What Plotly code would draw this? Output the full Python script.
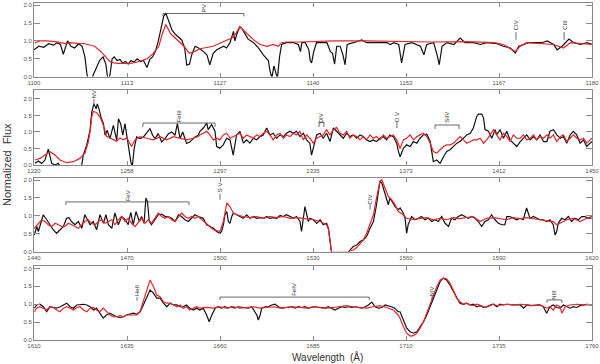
import plotly.graph_objects as go

# ---- panel 1 (1100-1180 A) ----
P1_WL_OBS = [1100.0, 1100.7, 1101.4, 1102.1, 1102.8, 1103.3, 1103.8, 1104.2, 1104.8, 1105.3, 1105.8, 1106.4,
             1106.9, 1107.3, 1107.6, 1108.0, 1108.5, 1108.9, 1109.4, 1109.9, 1110.3, 1110.6, 1110.9, 1111.2,
             1111.5, 1111.9, 1112.3, 1112.7, 1113.1, 1113.5, 1113.9, 1114.3, 1114.8, 1115.3, 1115.7, 1116.2,
             1116.6, 1117.0, 1117.4, 1117.8, 1118.3, 1118.6, 1118.9, 1119.2, 1119.5, 1119.8, 1120.3, 1120.8,
             1121.2, 1121.6, 1121.9, 1122.3, 1122.6, 1123.1, 1123.6, 1124.3, 1124.8, 1125.2, 1125.7, 1126.2,
             1126.7, 1127.2, 1127.6, 1128.1, 1128.6, 1128.8, 1129.1, 1129.3, 1129.5, 1129.8, 1130.3, 1130.7,
             1131.5, 1132.2, 1132.9, 1133.6, 1133.8, 1134.1, 1134.4, 1134.7, 1134.9, 1135.2, 1135.5, 1136.2,
             1137.2, 1137.9, 1138.2, 1138.4, 1138.9, 1139.4, 1139.6, 1139.8, 1140.1, 1140.5, 1142.0, 1142.5,
             1142.8, 1143.1, 1143.4, 1143.9, 1144.3, 1144.6, 1144.9, 1145.8, 1147.0, 1147.7, 1148.7, 1149.6,
             1150.6, 1151.1, 1151.6, 1152.3, 1152.7, 1153.2, 1154.2, 1155.4, 1155.9, 1156.3, 1157.3, 1157.8,
             1158.1, 1158.5, 1159.2, 1160.2, 1161.1, 1161.8, 1163.0, 1164.0, 1164.9, 1166.4, 1167.3, 1168.3,
             1169.0, 1169.5, 1170.2, 1170.9, 1171.9, 1172.8, 1173.6, 1174.5, 1175.0, 1175.7, 1176.7, 1177.4,
             1178.3, 1179.3, 1180.0]
P1_FLUX_OBS = [0.75, 0.85, 0.82, 0.92, 0.88, 0.95, 0.90, 0.62, 1.00, 0.85, 0.80, 0.92,
               0.85, 0.55, 0.05, -0.25, 0.05, 0.25, 0.45, 0.55, 0.35, -0.10, 0.05, 0.50,
               0.55, 0.45, 0.48, 0.38, 0.42, 0.35, 0.45, 0.40, 0.50, 0.42, 0.45, 0.25,
               0.48, 0.55, 0.70, 0.98, 1.50, 1.70, 1.78, 1.60, 1.45, 1.30, 1.18, 1.08,
               1.02, 0.80, 0.32, 0.35, 0.60, 0.85, 0.80, 0.70, 0.60, 0.33, 0.65, 0.75,
               0.80, 0.85, 0.80, 0.95, 1.27, 1.00, 1.20, 1.30, 1.40, 1.35, 1.20, 1.05,
               0.95, 0.80, 0.60, 0.45, 0.19, -0.05, 0.30, 0.10, -0.05, 0.55, 0.90, 0.95,
               0.95, 0.90, 0.70, 0.95, 0.95, 0.75, 0.45, 0.38, 0.70, 0.95, 0.95, 0.70,
               0.65, 0.35, 0.85, 0.85, 0.60, 0.33, 0.90, 0.95, 1.03, 0.95, 0.95, 0.93,
               0.95, 0.90, 0.95, 0.90, 0.38, 0.90, 0.95, 0.85, 0.61, 0.90, 0.95, 0.60,
               0.33, 0.85, 0.95, 0.90, 1.08, 0.95, 0.95, 0.90, 0.95, 0.92, 0.85, 0.80,
               0.66, 0.85, 0.90, 0.95, 0.95, 0.95, 1.00, 0.90, 0.75, 0.85, 1.05, 0.95,
               0.90, 0.95, 0.90]
P1_WL_MOD = [1100.1, 1100.9, 1101.8, 1103.1, 1104.7, 1105.2, 1106.2, 1107.3, 1108.7, 1109.6, 1110.5, 1111.0,
             1111.9, 1112.9, 1113.8, 1114.7, 1116.2, 1117.1, 1117.9, 1118.4, 1118.9, 1119.6, 1120.6, 1121.5,
             1122.3, 1123.0, 1123.8, 1125.7, 1126.7, 1128.6, 1129.5, 1130.5, 1131.5, 1132.4, 1133.4, 1134.3,
             1135.0, 1135.5, 1136.2, 1138.2, 1142.9, 1147.7, 1152.3, 1157.0, 1162.0, 1166.0, 1167.3, 1169.0,
             1169.7, 1170.6, 1174.5, 1175.9, 1176.9, 1180.0]
P1_FLUX_MOD = [0.95, 1.00, 1.00, 0.98, 0.92, 0.95, 0.93, 0.92, 0.85, 0.70, 0.50, 0.40,
               0.37, 0.36, 0.37, 0.40, 0.50, 0.65, 0.85, 1.20, 1.46, 1.20, 1.00, 0.85,
               0.65, 0.70, 0.78, 0.85, 0.94, 1.10, 1.40, 1.20, 1.03, 0.90, 0.85, 0.90,
               0.85, 0.95, 0.97, 0.97, 1.00, 1.00, 0.98, 0.97, 0.98, 0.95, 0.90, 0.70,
               0.85, 0.95, 0.90, 0.80, 0.95, 0.90]

# ---- panel 2 (1220-1450 A) ----
P2_WL_OBS = [1220.4, 1221.8, 1223.2, 1224.5, 1225.9, 1226.6, 1227.3, 1228.7, 1230.0, 1231.4, 1235.0, 1239.0,
             1239.7, 1240.3, 1241.7, 1243.1, 1243.8, 1244.7, 1245.6, 1246.1, 1246.8, 1247.6, 1248.6, 1249.3,
             1250.2, 1251.3, 1252.7, 1254.1, 1254.8, 1255.7, 1256.6, 1257.5, 1258.5, 1259.3, 1259.9, 1260.5,
             1261.3, 1262.3, 1263.7, 1265.1, 1266.5, 1267.8, 1268.9, 1269.9, 1271.2, 1272.6, 1274.0, 1275.4,
             1276.8, 1278.1, 1279.1, 1280.2, 1281.3, 1282.9, 1284.3, 1286.4, 1287.7,
             1288.4, 1289.8, 1291.2, 1291.8, 1293.2, 1294.6, 1295.3, 1296.6, 1298.0, 1299.4, 1300.8, 1302.1,
             1303.5, 1304.9, 1306.3, 1307.6, 1309.0, 1310.4, 1311.8, 1313.1, 1314.5, 1315.9, 1317.3, 1318.6,
             1320.0, 1321.4, 1322.8, 1324.1, 1325.5, 1326.9, 1328.2, 1329.6, 1331.0, 1332.4, 1333.7, 1334.4,
             1335.1, 1336.5, 1337.9, 1339.2, 1340.6, 1342.0, 1343.4, 1344.7, 1346.1, 1347.5, 1348.9, 1350.2,
             1351.6, 1353.0, 1354.4, 1355.7, 1357.1, 1358.5, 1359.8, 1361.2, 1362.6, 1364.0, 1365.3, 1366.7,
             1368.1, 1369.5, 1370.2,
             1370.9, 1372.3, 1373.6, 1375.0, 1376.4, 1377.8, 1379.1, 1380.5, 1381.9, 1383.3, 1384.6, 1386.0,
             1387.4, 1388.8, 1390.1, 1391.5, 1392.9, 1394.3, 1395.6, 1397.0, 1398.4, 1399.8, 1401.1, 1402.5,
             1403.2, 1404.6, 1405.3, 1405.9, 1407.3, 1408.7, 1410.1, 1410.7, 1412.1, 1413.5, 1414.9, 1416.2,
             1417.6, 1419.0, 1420.4, 1421.7, 1423.1, 1424.5, 1425.9, 1427.2, 1428.6, 1430.0, 1431.4, 1432.7,
             1434.1, 1435.5, 1436.9, 1438.2, 1439.6, 1441.0, 1442.3, 1443.7, 1445.1, 1446.5, 1447.8, 1449.2,
             1450.0]
P2_FLUX_OBS = [0.05, 0.12, 0.05, 0.15, 0.48, 0.30, 0.05, 0.00, 0.05, -0.10, -0.20, -0.10,
               0.00, 0.30, 0.60, 1.05, 1.60, 1.85, 1.70, 1.85, 1.70, 1.45, 1.25, 0.90,
               1.05, 0.80, 1.20, 0.75, 1.40, 1.25, 0.90, 1.25, 0.75, 0.45, 0.10, -0.05,
               0.50, 0.85, 0.80, 0.85, 1.00, 1.10, 0.90, 0.80, 0.95, 0.70, 0.80, 0.95,
               1.00, 0.90, 1.25, 0.80, 1.00, 0.65, 0.70, 0.85, 0.90,
               1.02, 1.12, 1.27, 1.07, 1.22, 1.02, 0.56, 0.51, 0.61, 0.81, 0.76, 0.30,
               0.91, 1.02, 0.66, 0.76, 0.66, 0.81, 0.76, 0.86, 0.91, 1.12, 0.91, 0.96,
               0.81, 0.91, 0.86, 0.96, 1.02, 0.96, 1.02, 0.86, 0.96, 0.76, 0.66, 0.30,
               0.51, 0.91, 0.96, 0.81, 0.96, 0.71, 1.12, 1.02, 0.91, 0.81, 0.96, 0.86,
               0.91, 0.81, 0.91, 0.86, 0.76, 0.71, 0.76, 0.71, 0.81, 0.86, 0.76, 0.91,
               0.86, 0.66, 0.41,
               0.25, 0.51, 0.61, 0.56, 0.71, 0.66, 0.81, 0.91, 0.93, 0.71, 0.10, 0.15,
               0.05, 0.25, 0.41, 0.46, 0.56, 0.66, 0.71, 0.81, 0.91, 0.96, 1.12, 1.47,
               1.54, 1.54, 1.42, 1.07, 1.02, 0.81, 1.07, 0.91, 1.07, 0.81, 1.02, 0.76,
               0.66, 0.56, 0.71, 0.81, 0.91, 0.76, 0.86, 0.76, 0.91, 0.71, 0.71, 1.02,
               1.07, 0.91, 0.81, 0.86, 0.66, 0.91, 1.02, 0.91, 0.66, 0.76, 0.56, 0.66,
               0.71]
P2_WL_MOD = [1220.4, 1222.5, 1224.5, 1226.6, 1228.7, 1230.7, 1233.5, 1236.2, 1238.9, 1241.0, 1242.4, 1243.1,
             1243.8, 1244.4, 1245.8, 1247.2, 1248.6, 1249.9, 1251.3, 1252.7, 1254.1, 1255.4, 1256.8, 1258.2,
             1260.2, 1261.6, 1263.7, 1266.5, 1269.2, 1272.0, 1274.7, 1277.5, 1280.2, 1282.9, 1285.7, 1287.7,
             1288.4, 1289.8, 1291.2, 1292.5, 1293.9, 1295.3, 1296.6, 1298.0, 1299.4, 1300.8, 1302.1, 1303.5,
             1304.9, 1306.3, 1307.6, 1309.0, 1310.4, 1311.8, 1313.1, 1314.5, 1315.9, 1317.3, 1318.6, 1320.0,
             1321.4, 1322.8, 1324.1, 1325.5, 1326.9, 1328.2, 1329.6, 1331.0, 1332.4, 1333.7, 1335.1, 1336.5,
             1337.9, 1339.2, 1340.6, 1342.0, 1343.4, 1344.7, 1346.1, 1347.5, 1348.9, 1350.2, 1351.6, 1353.0,
             1354.4, 1355.7, 1357.1, 1358.5, 1359.8, 1361.2, 1362.6, 1364.0, 1365.3, 1366.7, 1368.1, 1369.5,
             1370.9, 1372.3, 1373.6, 1375.0, 1376.4, 1377.8, 1379.1, 1380.5, 1381.9, 1383.3, 1384.6, 1386.0,
             1387.4, 1388.8, 1390.1, 1391.5, 1392.9, 1394.3, 1395.6, 1397.0, 1398.4, 1399.8, 1401.1, 1402.5,
             1403.9, 1405.3, 1406.6, 1408.0, 1409.4, 1410.7, 1412.1, 1413.5, 1414.9, 1416.2, 1417.6, 1419.0,
             1420.4, 1421.7, 1423.1, 1424.5, 1425.9, 1427.2, 1428.6, 1430.0, 1431.4, 1432.7, 1434.1, 1435.5,
             1436.9, 1438.2, 1439.6, 1441.0, 1442.3, 1443.7, 1445.1, 1446.5, 1447.8, 1450.0]
P2_FLUX_MOD = [0.15, 0.20, 0.30, 0.40, 0.30, 0.15, 0.07, 0.10, 0.20, 0.36, 0.70, 1.00,
               1.45, 1.62, 1.59, 1.45, 1.20, 0.87, 0.82, 0.76, 0.72, 0.82, 0.76, 0.82,
               0.56, 0.76, 0.86, 0.81, 0.76, 0.86, 0.76, 0.86, 0.81, 0.76, 0.81, 0.86,
               0.91, 0.96, 1.02, 0.91, 0.76, 0.81, 0.76, 0.91, 0.96, 0.81, 0.86, 0.91,
               0.96, 0.81, 0.91, 0.86, 0.81, 0.91, 0.86, 0.96, 1.02, 0.91, 0.76, 0.91,
               0.96, 0.81, 0.91, 0.86, 0.96, 0.91, 1.02, 0.76, 0.91, 0.81, 0.66, 0.81,
               0.86, 0.91, 1.07, 0.91, 1.07, 1.14, 0.96, 0.91, 1.02, 0.81, 0.91, 0.86,
               0.76, 0.86, 0.76, 0.91, 0.81, 0.86, 0.76, 0.91, 0.81, 0.86, 0.91, 0.76,
               0.50, 0.76, 0.81, 0.91, 0.76, 0.86, 0.91, 0.96, 0.86, 0.66, 0.41, 0.36,
               0.46, 0.56, 0.61, 0.61, 0.66, 0.76, 0.86, 0.76, 0.66, 0.71, 0.76, 0.76,
               0.81, 0.66, 0.76, 0.91, 1.07, 0.91, 0.76, 0.96, 0.86, 0.71, 0.91, 0.81,
               0.81, 0.91, 0.76, 0.81, 0.91, 0.76, 0.86, 0.81, 0.91, 0.81, 0.91, 0.71,
               0.86, 0.91, 0.71, 0.81, 0.91, 0.81, 0.76, 0.81, 0.66, 0.81]

# ---- panel 3 (1440-1620 A) ----
P3_WL_OBS = [1440.1, 1440.9, 1441.4, 1442.1, 1443.0, 1444.1, 1445.2, 1446.2, 1447.3, 1448.4, 1449.5, 1450.5,
             1451.3, 1452.1, 1453.2, 1454.3, 1455.4, 1456.4, 1457.2, 1458.1, 1459.1, 1460.2, 1461.3, 1462.4,
             1463.2, 1464.0, 1465.1, 1466.1, 1467.2, 1468.3, 1469.4, 1470.4, 1471.2, 1472.0, 1472.9, 1474.0,
             1474.7, 1475.5, 1476.1, 1476.6, 1477.2, 1477.9, 1479.0, 1480.1, 1481.2, 1482.3, 1483.3, 1484.4,
             1485.5, 1486.6, 1487.6, 1488.7, 1489.8, 1490.9, 1491.9, 1493.0,
             1494.6, 1495.7, 1496.8, 1497.9, 1498.9, 1500.0, 1500.5, 1501.1, 1501.6, 1502.2, 1502.7, 1503.2,
             1503.8, 1504.3, 1505.4, 1506.5, 1507.5, 1508.6, 1509.7, 1510.8, 1511.8, 1512.9, 1514.0, 1515.1,
             1516.1, 1517.2, 1518.3, 1519.4, 1520.4, 1521.5, 1522.6, 1523.7, 1524.7, 1525.8, 1526.3, 1526.9,
             1527.4, 1528.0, 1528.5, 1529.0, 1530.1, 1531.2, 1532.3, 1533.3, 1534.4, 1535.0, 1535.5, 1536.0,
             1537.6, 1540.9, 1541.9, 1543.0, 1544.1, 1545.2, 1546.2, 1547.3, 1548.4, 1549.5, 1550.5, 1551.6,
             1552.2, 1553.2, 1554.3, 1554.8, 1555.4, 1556.5, 1557.5,
             1558.1, 1559.1, 1559.7, 1560.2, 1560.7, 1561.8, 1562.9, 1564.0, 1565.0, 1566.1, 1567.2, 1568.3,
             1569.4, 1570.4, 1571.5, 1572.6, 1573.7, 1574.7, 1575.8, 1576.9, 1578.0, 1579.0, 1580.1, 1581.2,
             1582.3, 1583.3, 1584.4, 1585.5, 1586.6, 1587.6, 1588.7, 1589.8, 1590.9, 1591.9, 1592.5, 1593.5,
             1594.6, 1595.7, 1596.8, 1597.8, 1598.9, 1599.5, 1600.0, 1601.1, 1602.1, 1603.2, 1604.3, 1605.4,
             1606.4, 1607.5, 1608.1, 1608.6, 1609.1, 1610.2, 1611.3, 1612.4, 1613.4, 1614.5, 1615.6, 1616.7,
             1617.7, 1618.8, 1619.9]
P3_FLUX_OBS = [0.46, 0.70, 0.56, 0.75, 1.03, 0.89, 0.75, 0.61, 0.51, 0.61, 0.70, 0.93,
               0.95, 0.84, 0.75, 0.84, 0.65, 1.03, 0.89, 0.75, 0.84, 0.61, 1.03, 0.79,
               1.03, 0.75, 0.65, 1.08, 0.75, 0.98, 0.89, 0.75, 1.10, 0.75, 1.12, 0.84,
               0.98, 0.79, 1.50, 1.40, 0.84, 0.75, 0.89, 1.03, 1.05, 0.98, 0.98, 0.93,
               0.84, 1.03, 0.98, 0.89, 0.84, 0.93, 1.03, 0.98,
               0.93, 0.75, 0.70, 0.65, 0.56, 0.51, 0.56, 0.75, 1.03, 1.12, 0.84, 0.79,
               0.98, 1.08, 1.03, 0.98, 0.93, 1.03, 0.93, 0.98, 0.93, 0.95, 0.93, 0.98,
               0.93, 0.95, 0.93, 1.01, 0.98, 1.03, 0.98, 0.93, 0.98, 0.84, 0.56, 0.89,
               1.26, 1.03, 0.84, 0.93, 0.89, 0.79, 0.89, 0.75, 0.79, 0.65, 0.28, -0.05,
               -0.10, -0.08, 0.04, 0.14, 0.18, 0.28, 0.32, 0.42, 0.65, 0.84, 1.31, 1.97,
               1.92, 1.64, 1.31, 1.50, 1.40, 1.26, 1.17,
               1.22, 1.08, 0.93, 0.51, 0.75, 0.98, 0.89, 0.93, 0.98, 0.89, 0.93, 0.84,
               0.89, 0.84, 0.98, 0.79, 0.70, 0.93, 0.89, 0.98, 1.03, 0.98, 0.93, 0.98,
               0.93, 0.84, 0.70, 0.84, 0.89, 1.03, 0.89, 0.79, 0.75, 0.75, 0.98, 0.98,
               0.93, 0.89, 0.93, 0.89, 1.22, 1.08, 0.93, 0.98, 0.93, 0.89, 0.89, 0.84,
               0.89, 0.75, 0.46, 0.56, 0.79, 0.93, 0.89, 0.98, 0.84, 0.93, 0.89, 0.98,
               0.98, 0.93, 0.98]
P3_WL_MOD = [1440.1, 1441.4, 1442.5, 1443.5, 1444.6, 1445.7, 1446.8, 1447.9, 1448.9, 1450.0, 1451.1, 1452.2,
             1453.2, 1454.3, 1455.4, 1456.4, 1457.5, 1458.6, 1459.7, 1460.8, 1461.8, 1462.9, 1464.0, 1465.1,
             1466.1, 1467.2, 1468.3, 1469.4, 1470.4, 1471.5, 1472.6, 1473.7, 1474.7, 1475.8, 1476.9, 1477.9,
             1479.0, 1480.1, 1481.2, 1482.3, 1483.3, 1484.4, 1485.5, 1486.6, 1487.6, 1488.7, 1489.8, 1490.9,
             1491.9, 1493.0, 1495.7, 1497.9, 1500.0, 1501.1, 1502.2, 1503.2, 1504.3, 1505.4, 1507.5, 1509.7,
             1511.8, 1514.0, 1516.1, 1518.3, 1520.4, 1522.6, 1524.7, 1526.9, 1528.0, 1530.1, 1532.3, 1533.3,
             1534.4, 1535.0, 1535.5, 1536.0, 1540.9, 1543.0, 1544.1, 1545.2, 1546.2, 1547.3, 1548.4, 1549.5,
             1550.5, 1551.6, 1552.2, 1553.2, 1554.3, 1555.4, 1556.5, 1557.5, 1559.1, 1560.2, 1562.4, 1564.5,
             1566.7, 1568.8, 1571.0, 1573.1, 1575.3, 1577.4, 1579.6, 1581.7, 1583.9, 1586.0, 1588.2, 1590.3,
             1592.5, 1594.6, 1596.8, 1598.9, 1601.1, 1603.2, 1605.4, 1607.5, 1608.6, 1609.7, 1611.8, 1614.0,
             1616.1, 1618.3, 1619.9]
P3_FLUX_MOD = [0.65, 0.79, 0.89, 0.84, 0.75, 0.70, 0.79, 0.75, 0.70, 0.70, 0.79, 0.75,
               0.70, 0.65, 0.75, 0.84, 0.89, 0.79, 0.75, 0.84, 0.89, 0.79, 0.84, 0.89,
               0.75, 0.89, 0.98, 0.84, 0.93, 0.79, 0.70, 0.84, 0.93, 0.79, 0.89, 0.79,
               0.93, 1.08, 0.98, 0.93, 0.98, 0.89, 0.84, 0.98, 1.08, 0.98, 0.93, 0.98,
               0.93, 0.98, 0.79, 0.61, 0.56, 0.84, 1.36, 1.26, 1.08, 1.03, 0.98, 0.95,
               0.98, 0.93, 0.98, 0.95, 0.98, 0.93, 0.95, 0.93, 0.93, 0.89, 0.84, 0.79,
               0.75, 0.61, 0.28, -0.02, -0.02, 0.04, 0.11, 0.23, 0.32, 0.51, 0.75, 1.03,
               1.50, 1.97, 2.01, 1.78, 1.54, 1.45, 1.31, 1.12, 1.03, 0.93, 0.89, 0.93,
               0.95, 0.89, 0.93, 0.89, 0.95, 0.92, 0.95, 0.98, 0.84, 0.93, 0.95, 0.93,
               0.89, 0.95, 0.92, 0.95, 0.93, 0.89, 0.86, 0.84, 0.75, 0.79, 0.89, 0.93,
               0.84, 0.93, 0.93]

# ---- panel 4 (1610-1760 A) ----
P4_WL_OBS = [1610.1, 1610.7, 1611.6, 1612.5, 1613.4, 1614.3, 1615.2, 1616.1, 1617.0, 1617.9, 1618.8, 1619.7,
             1620.6, 1621.5, 1622.4, 1623.3, 1624.2, 1625.1, 1626.0, 1626.8, 1627.7, 1628.6, 1629.5, 1630.4,
             1631.3, 1632.2, 1633.1, 1634.0, 1634.9, 1635.8, 1636.7, 1637.6, 1638.5, 1639.4, 1640.3, 1641.2,
             1642.1, 1643.0, 1643.9, 1644.8, 1645.7, 1646.6, 1647.5, 1648.4, 1649.3, 1650.1, 1651.0, 1651.9,
             1652.8, 1653.7, 1654.6,
             1655.5, 1656.4, 1657.1, 1657.8, 1658.7, 1659.5, 1660.4, 1661.3, 1662.2, 1663.1, 1664.0, 1664.9,
             1665.8, 1666.7, 1667.6, 1668.5, 1669.4, 1669.9, 1670.3, 1670.8, 1671.2, 1672.1, 1673.0, 1673.9,
             1674.8, 1675.7, 1676.6, 1677.5, 1678.4, 1679.3, 1680.2, 1681.1, 1682.0, 1682.8, 1683.7, 1684.6,
             1685.5, 1686.4, 1687.3, 1688.2, 1689.1, 1690.0, 1690.9, 1691.8, 1692.7, 1693.6, 1694.5, 1695.4,
             1696.3, 1697.2, 1698.1, 1699.0, 1699.9, 1700.8, 1701.7, 1702.6, 1703.5, 1704.4, 1705.3, 1706.1,
             1707.0, 1707.9,
             1708.4, 1709.3, 1710.2, 1711.1, 1712.0, 1712.9, 1713.8, 1714.7, 1715.6, 1716.5, 1717.4, 1718.3,
             1719.2, 1720.0, 1720.9, 1721.8, 1722.7, 1723.6, 1724.5, 1725.4, 1726.3, 1727.2, 1728.1, 1729.0,
             1729.9, 1730.8, 1731.7, 1732.6, 1733.5, 1734.4, 1735.3, 1736.2, 1737.1, 1738.9, 1740.7, 1741.6,
             1742.5, 1743.3, 1745.1, 1746.0, 1746.9, 1747.8, 1748.7, 1749.6, 1750.5, 1751.4, 1752.3, 1753.2,
             1754.1, 1755.0, 1755.9, 1756.8, 1757.7, 1758.6, 1760.0]
P4_FLUX_OBS = [0.89, 0.98, 1.00, 0.93, 0.79, 0.93, 0.91, 0.89, 0.93, 0.98, 1.03, 0.93,
               0.89, 0.98, 1.00, 1.00, 0.98, 0.93, 0.84, 0.89, 0.75, 0.61, 0.70, 0.75,
               0.70, 0.65, 0.63, 0.65, 0.70, 0.72, 0.75, 0.72, 0.79, 0.98, 1.21, 1.40,
               1.31, 1.17, 1.17, 1.03, 0.93, 1.03, 0.98, 0.98, 0.93, 0.93, 0.98, 0.89,
               0.84, 0.89, 0.84,
               0.89, 0.70, 0.51, 0.70, 0.89, 0.93, 0.89, 0.93, 0.89, 0.93, 0.89, 0.93,
               0.91, 0.89, 0.89, 0.93, 0.79, 0.70, 0.56, 0.70, 0.89, 0.93, 0.93, 0.98,
               1.00, 0.93, 0.89, 0.91, 0.93, 0.93, 0.89, 0.93, 0.91, 0.93, 0.89, 0.91,
               0.93, 0.91, 0.89, 0.89, 0.93, 0.89, 0.84, 0.89, 0.93, 0.91, 0.93, 0.91,
               0.93, 0.91, 0.89, 0.93, 0.98, 1.06, 0.93, 0.89, 0.91, 0.98, 0.96, 0.93,
               0.89, 0.79,
               0.79, 0.56, 0.33, 0.23, 0.19, 0.23, 0.37, 0.51, 0.70, 0.93, 1.17, 1.40,
               1.64, 1.73, 1.68, 1.54, 1.36, 1.17, 1.03, 1.00, 1.03, 0.98, 1.00, 0.93,
               0.96, 0.91, 0.93, 0.98, 1.00, 0.93, 1.00, 0.98, 1.00, 0.98, 0.98, 0.89,
               0.98, 0.96, 0.96, 0.98, 0.93, 0.75, 0.93, 0.98, 0.91, 0.89, 0.98, 0.93,
               0.89, 0.93, 0.91, 0.96, 0.98, 1.00, 0.98]
P4_WL_MOD = [1610.1, 1610.7, 1611.6, 1612.5, 1613.4, 1614.3, 1615.2, 1616.1, 1617.0, 1617.9, 1618.8, 1619.7,
             1620.6, 1621.5, 1622.4, 1623.3, 1624.2, 1625.1, 1626.0, 1626.8, 1627.7, 1628.6, 1629.5, 1630.4,
             1631.3, 1632.2, 1633.1, 1634.0, 1634.9, 1635.8, 1636.7, 1637.6, 1638.5, 1639.4, 1640.3, 1641.2,
             1642.1, 1643.0, 1643.9, 1644.8, 1645.7, 1646.6, 1647.5, 1648.4, 1649.3, 1650.1, 1651.0, 1651.9,
             1652.8, 1653.7, 1654.6, 1656.4, 1658.2, 1660.0, 1661.8, 1663.6, 1665.4, 1667.2, 1669.0, 1670.8,
             1672.5, 1674.3, 1676.1, 1677.9, 1679.7, 1681.5, 1683.3, 1685.1, 1686.9, 1688.7, 1690.5, 1692.3,
             1694.0, 1695.8, 1697.6, 1699.4, 1701.2, 1703.0, 1704.8, 1706.6, 1707.9,
             1708.4, 1709.3, 1710.2, 1711.1, 1712.0, 1712.9, 1713.8, 1714.7, 1715.6, 1716.5, 1717.4, 1718.3,
             1719.2, 1720.0, 1720.9, 1721.8, 1722.7, 1723.6, 1724.5, 1725.4, 1726.3, 1727.2, 1728.1, 1729.0,
             1729.9, 1730.8, 1731.7, 1732.6, 1733.5, 1734.4, 1735.3, 1737.1, 1738.9, 1740.7, 1742.5, 1744.2,
             1746.0, 1747.8, 1748.7, 1749.6, 1750.5, 1751.4, 1751.9, 1752.8, 1754.1, 1755.9, 1757.7, 1760.0]
P4_FLUX_MOD = [0.79, 0.89, 0.93, 0.89, 0.84, 0.93, 0.91, 0.84, 0.79, 0.89, 0.93, 0.89,
               0.84, 0.91, 0.93, 0.84, 0.79, 0.89, 0.91, 0.84, 0.79, 0.89, 0.79, 0.70,
               0.65, 0.65, 0.68, 0.65, 0.70, 0.70, 0.72, 0.70, 0.79, 1.07, 1.40, 1.68,
               1.50, 1.26, 1.21, 1.07, 1.03, 1.03, 0.98, 0.93, 0.98, 0.89, 0.93, 0.84,
               0.89, 0.93, 0.89, 0.91, 0.89, 0.93, 0.89, 0.93, 0.89, 0.91, 0.93, 0.89,
               0.91, 0.93, 0.89, 0.91, 0.93, 0.91, 0.89, 0.93, 0.91, 0.89, 0.91, 0.93,
               0.96, 0.93, 0.91, 0.89, 0.93, 0.96, 0.91, 0.84, 0.70,
               0.61, 0.37, 0.19, 0.11, 0.12, 0.19, 0.33, 0.51, 0.75, 0.98, 1.21, 1.50,
               1.68, 1.73, 1.71, 1.59, 1.40, 1.17, 1.07, 1.00, 1.03, 0.98, 0.96, 1.00,
               0.98, 0.93, 0.92, 0.96, 1.00, 0.96, 0.98, 1.00, 0.98, 1.00, 0.98, 0.96,
               0.98, 0.89, 0.93, 0.84, 0.98, 0.93, 0.75, 0.93, 0.98, 1.00, 0.98, 0.98]

# axis ranges and tick labels
X_RANGES = [(1100, 1180), (1220, 1450), (1440, 1620), (1610, 1760)]
X_TICKTEXT = [
    ["1100", "1113", "1127", "1140", "1153", "1167", "1180"],
    ["1220", "1258", "1297", "1335", "1373", "1412", "1450"],
    ["1440", "1470", "1500", "1530", "1560", "1590", "1620"],
    ["1610", "1635", "1660", "1685", "1710", "1735", "1760"],
]
Y_TOPS = [2.08, 2.27, 2.06, 2.07]
Y_TICKS = [0.0, 0.5, 1.0, 1.5, 2.0]

# line identifications: (panel, label, wavelength, line bottom, line top, text y)
SINGLE_IDS = [
    (0, "CIV", 1169.1, 1.03, 1.25, 1.44),
    (0, "CIII", 1176.0, 1.03, 1.25, 1.46),
    (1, "NV", 1244.7, 1.79, 2.0, 2.13),
    (1, "O V", 1369.6, 1.12, 1.3, 1.44),
    (2, "S V", 1500.0, 1.45, 1.62, 1.8),
    (2, "CIV", 1548.4, 1.17, 1.31, 1.46),
    (3, "HeII", 1637.7, 1.1, 1.2, 1.37),
    (3, "NIV", 1717.0, 1.12, 1.23, 1.36),
]
# brackets: (panel, label, start, end, bar y, tick depth, text y)
BRACKET_IDS = [
    (0, "PV", 1118.5, 1130.1, 1.77, 0.08, 1.93),
    (1, "FeIII", 1264.9, 1294.6, 1.27, 0.12, 1.47),
    (1, "OIV", 1337.5, 1339.5, 1.3, 0.15, 1.42),
    (1, "SiIV", 1385.3, 1395.2, 1.21, 0.12, 1.43),
    (2, "FeV", 1450.3, 1490.0, 1.39, 0.09, 1.56),
    (3, "FeIV", 1660.0, 1700.1, 1.2, 0.08, 1.42),
    (3, "NIII", 1747.9, 1751.9, 1.12, 0.08, 1.28),
]

OBS = [(P1_WL_OBS, P1_FLUX_OBS), (P2_WL_OBS, P2_FLUX_OBS), (P3_WL_OBS, P3_FLUX_OBS), (P4_WL_OBS, P4_FLUX_OBS)]
MOD = [(P1_WL_MOD, P1_FLUX_MOD), (P2_WL_MOD, P2_FLUX_MOD), (P3_WL_MOD, P3_FLUX_MOD), (P4_WL_MOD, P4_FLUX_MOD)]

W, H = 600, 364
# panel frames in pixels (top, bottom); x from 34 to 592
PANEL_PX = [(2.5, 76.5), (90, 165), (178, 251.5), (266, 340)]
X_DOM = [34 / W, 592 / W]

FRAME = "#8a8a8a"
TXT = "#333333"
FONT = "Liberation Sans, Arial, sans-serif"

fig = go.Figure()
layout = dict(
    width=W, height=H,
    margin=dict(l=0, r=0, t=0, b=0, autoexpand=False),
    paper_bgcolor="white", plot_bgcolor="white",
    showlegend=False,
    font=dict(family=FONT, color=TXT),
)
shapes = []
annotations = []

for i in range(4):
    sfx = "" if i == 0 else str(i + 1)
    xa, ya = "x" + sfx, "y" + sfx
    wl, fl = OBS[i]
    fig.add_trace(go.Scatter(x=wl, y=fl, mode="lines", xaxis=xa, yaxis=ya,
                             line=dict(color="#111111", width=1.2)))
    wl, fl = MOD[i]
    fig.add_trace(go.Scatter(x=wl, y=fl, mode="lines", xaxis=xa, yaxis=ya,
                             line=dict(color="#e8242b", width=1.2)))

    top, bot = PANEL_PX[i]
    x0, x1 = X_RANGES[i]
    step = (x1 - x0) / 6
    layout["xaxis" + sfx] = dict(
        domain=X_DOM, anchor=ya, range=[x0, x1], automargin=False,
        tickvals=[x0 + k * step for k in range(7)], ticktext=X_TICKTEXT[i],
        ticks="inside", ticklen=4, tickcolor=FRAME, showline=True, linecolor=FRAME,
        linewidth=1, mirror="ticks", showgrid=False, zeroline=False,
        tickfont=dict(size=6, color="#555555"),
    )
    layout["yaxis" + sfx] = dict(
        domain=[1 - bot / H, 1 - top / H], anchor=xa, range=[0, Y_TOPS[i]], automargin=False,
        tickvals=Y_TICKS, tickformat=".1f",
        ticks="inside", ticklen=6, tickcolor=FRAME, showline=True, linecolor=FRAME,
        linewidth=1, mirror="ticks", showgrid=False, zeroline=False,
        tickfont=dict(size=6, color="#555555"),
    )

for p, label, wl, y0, y1, ty in SINGLE_IDS:
    sfx = "" if p == 0 else str(p + 1)
    shapes.append(dict(type="line", xref="x" + sfx, yref="y" + sfx, x0=wl, x1=wl, y0=y0, y1=y1,
                       line=dict(color="#444444", width=0.8)))
    annotations.append(dict(xref="x" + sfx, yref="y" + sfx, x=wl, y=ty, text=label, textangle=-90,
                            showarrow=False, font=dict(size=6, color=TXT)))

for p, label, a, b, yb, d, ty in BRACKET_IDS:
    sfx = "" if p == 0 else str(p + 1)
    shapes.append(dict(type="path", xref="x" + sfx, yref="y" + sfx,
                       path=f"M {a},{yb - d} L {a},{yb} L {b},{yb} L {b},{yb - d}",
                       line=dict(color="#444444", width=0.8)))
    annotations.append(dict(xref="x" + sfx, yref="y" + sfx, x=(a + b) / 2, y=ty, text=label, textangle=-90,
                            showarrow=False, font=dict(size=6, color=TXT)))

annotations.append(dict(xref="paper", yref="paper", x=7 / W, y=1 - 165 / H, text="Normalized  Flux",
                        xanchor="center", yanchor="middle",
                        textangle=-90, showarrow=False, font=dict(size=11, color=TXT)))
annotations.append(dict(xref="paper", yref="paper", x=327 / W, y=1 - 357 / H, text="Wavelength  (Å)",
                        xanchor="center", yanchor="middle",
                        showarrow=False, font=dict(size=10, color=TXT)))

layout["shapes"] = shapes
layout["annotations"] = annotations
fig.update_layout(**layout)
# drop the page's default body margin so the figure sits at the window's corner
fig.write_html("out.html", config=dict(displayModeBar=False, staticPlot=True),
               post_script="document.body.style.margin='0';")
